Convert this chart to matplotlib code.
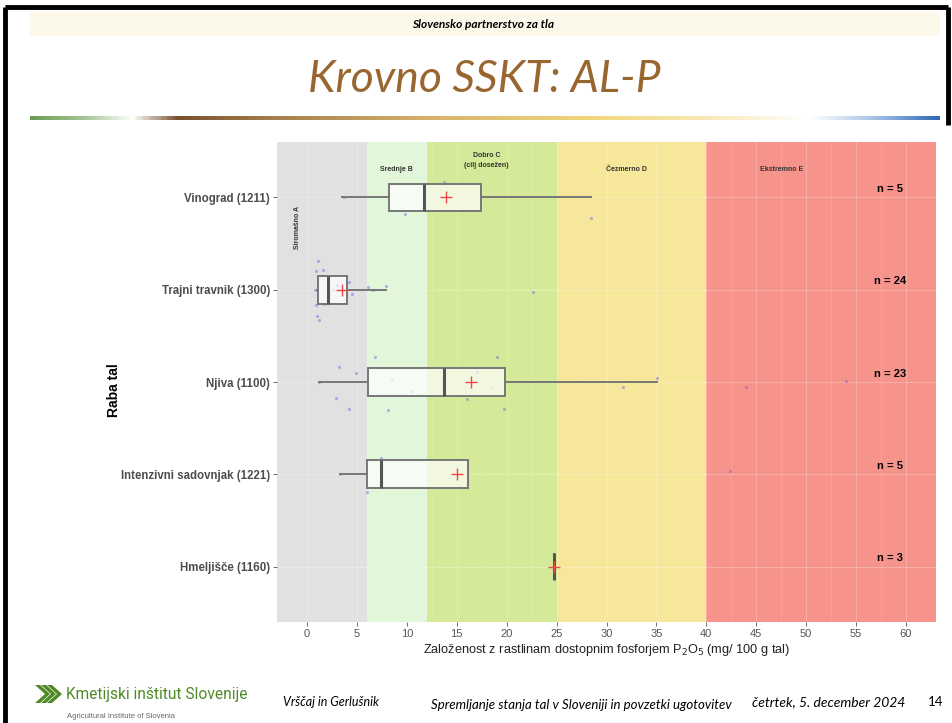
"""Krovno SSKT: AL-P - boxplot of plant-available P2O5 by land use, slide layout."""

import numpy as np
import matplotlib
matplotlib.use("Agg")
import matplotlib.pyplot as plt
from matplotlib.colors import LinearSegmentedColormap
from matplotlib.patches import Rectangle, Polygon

plt.rcParams["font.family"] = ["Liberation Sans", "DejaVu Sans"]

# ---- data ----
categories = ["Hmeljišče (1160)", "Intenzivni sadovnjak (1221)", "Njiva (1100)",
              "Trajni travnik (1300)", "Vinograd (1211)"]
n_counts = [3, 5, 23, 24, 5]
whisker_lo = [24.7, 3.3, 1.2, 1.0, 3.5]
q1 = [24.7, 6.0, 6.1, 1.1, 8.2]
median = [24.7, 7.4, 13.7, 2.1, 11.7]
q3 = [24.7, 16.1, 19.8, 4.0, 17.4]
whisker_hi = [24.7, 16.1, 35.1, 7.9, 28.4]
means = [24.7, 15.0, 16.4, 3.5, 13.9]

# jittered observations: value and vertical jitter per category
pts_hmelj = [24.7, 24.7, 24.7]
jit_hmelj = [0.05, -0.05, 0.0]
pts_sad = [3.3, 6.0, 7.4, 42.4]
jit_sad = [0.0, -0.19, 0.18, 0.04]
pts_njiva = [6.8, 19.0, 3.2, 4.9, 8.5, 35.1, 17.0, 2.9, 4.2, 8.1, 10.5, 16.0,
             18.4, 19.7, 31.7, 44.0, 54.0, 1.2]
jit_njiva = [0.27, 0.27, 0.16, 0.10, 0.03, 0.04, 0.11, -0.17, -0.29, -0.30,
             -0.10, -0.18, -0.05, -0.29, -0.05, -0.05, 0.01, 0.0]
pts_trajni = [1.1, 0.9, 1.6, 0.8, 4.2, 4.5, 0.9, 1.7, 1.0, 1.2, 6.1, 6.6, 7.9,
              22.6, 2.6, 3.0]
jit_trajni = [0.31, 0.20, 0.21, 0.0, 0.08, -0.05, -0.17, -0.16, -0.28, -0.33,
              0.03, 0.0, 0.04, -0.02, 0.0, 0.05]
pts_vino = [3.7, 9.8, 13.7, 28.4]
jit_vino = [0.0, -0.18, 0.17, -0.22]
points = [(pts_hmelj, jit_hmelj), (pts_sad, jit_sad), (pts_njiva, jit_njiva),
          (pts_trajni, jit_trajni), (pts_vino, jit_vino)]

zone_edges = [-3, 6, 12, 25, 40, 63]
zone_colors = ["#E1E1E1", "#E2F6D9", "#D5EA98", "#F7E79B", "#F6948B"]
zone_labels = ["Siromašno A", "Srednje B", "Dobro C\n(cilj dosežen)", "Čezmerno D", "Ekstremno E"]
x_ticks = [0, 5, 10, 15, 20, 25, 30, 35, 40, 45, 50, 55, 60]

W, H = 952, 723
fig = plt.figure(figsize=(W / 100, H / 100), dpi=100)
fig.patch.set_facecolor("white")

# ---- slide decoration ----
bg = fig.add_axes([0, 0, 1, 1], zorder=0)
bg.set_xlim(0, W)
bg.set_ylim(H, 0)
bg.axis("off")

slide_font = ["Lato", "DejaVu Sans"]

bg.add_patch(Rectangle((30, 12), 910, 24, color="#FBF8EA", lw=0))
bg.plot([5, 5], [7, H], color="black", lw=3.5, solid_capstyle="butt")
bg.plot([5, 948], [7, 7], color="black", lw=3.5, solid_capstyle="butt")
bg.plot([948, 948], [7, 125], color="black", lw=3.5, solid_capstyle="butt")

bg.text(483, 24, "Slovensko partnerstvo za tla", ha="center", va="center",
        fontsize=8.6, style="italic", weight="bold", family=slide_font)
bg.text(484, 80, "Krovno SSKT: AL-P", ha="center", va="center", fontsize=32,
        style="italic", color="#9A6630", family=slide_font)

grad_cmap = LinearSegmentedColormap.from_list("rule", [
    (0.0, "#6E9E55"), (0.06, "#A9C79A"), (0.11, "#FFFFFF"), (0.16, "#7A5230"),
    (0.28, "#A88350"), (0.45, "#D9B56E"), (0.62, "#F1D77C"), (0.75, "#F8EAB8"),
    (0.86, "#FFFFFF"), (0.93, "#A8C4E6"), (1.0, "#3568B8")])
bg.imshow(np.linspace(0, 1, 400)[None, :], cmap=grad_cmap, aspect="auto",
          extent=[30, 940, 120, 116], zorder=1)

# logo chevrons
for k in range(3):
    dx = k * 6
    bg.add_patch(Polygon([(35 + dx, 685), (40 + dx, 685), (50 + dx, 694),
                          (40 + dx, 703), (35 + dx, 703), (45 + dx, 694)],
                         closed=True, color="#4E8A25", lw=0))
bg.text(66, 695, "Kmetijski inštitut Slovenije", ha="left", va="center", fontsize=11.2,
        color="#4E8A25", family=["Liberation Sans Narrow", "Roboto", "DejaVu Sans"])
bg.text(67, 717, "Agricultural Institute of Slovenia", ha="left", va="center",
        fontsize=5.5, color="#666666")
bg.text(283, 702, "Vrščaj in Gerlušnik", ha="left", va="center", fontsize=9,
        style="italic", family=slide_font)
bg.text(431, 705, "Spremljanje stanja tal v Sloveniji in povzetki ugotovitev", ha="left",
        va="center", fontsize=9.5, style="italic", family=slide_font)
bg.text(752, 702, "četrtek, 5. december 2024", ha="left", va="center", fontsize=10,
        style="italic", family=slide_font)
bg.text(928, 702, "14", ha="left", va="center", fontsize=9.5, family=slide_font)

# ---- chart panel ----
ax = fig.add_axes([277 / W, 1 - 622 / H, 659 / W, 480 / H], zorder=2)
ax.set_xlim(-3, 63)
ax.set_ylim(0.4, 5.6)

for i, c in enumerate(zone_colors):
    ax.axvspan(zone_edges[i], zone_edges[i + 1], color=c, lw=0, zorder=0)

# faint ggplot-style grid over the zones
for xv in np.arange(0, 61, 5):
    ax.axvline(xv, color="white", lw=0.8, alpha=0.22, zorder=1)
for xv in np.arange(2.5, 61, 5):
    ax.axvline(xv, color="white", lw=0.5, alpha=0.15, zorder=1)
for yv in range(1, 6):
    ax.axhline(yv, color="white", lw=0.8, alpha=0.25, zorder=1)

ypos = np.arange(1, len(categories) + 1)

# jittered observations
for yc, (vals, jit) in zip(ypos, points):
    ax.scatter(vals, yc + np.array(jit), s=5, color="#6B5BE0", alpha=0.45,
               lw=0, zorder=2)

stats = []
for i in range(len(categories)):
    stats.append(dict(med=median[i], q1=q1[i], q3=q3[i], whislo=whisker_lo[i],
                      whishi=whisker_hi[i], fliers=[]))
ax.bxp(stats, positions=ypos, vert=False, widths=0.30, patch_artist=True,
       showcaps=False, showfliers=False,
       boxprops=dict(facecolor=(1, 1, 1, 0.7), edgecolor="#777777", lw=1.4),
       whiskerprops=dict(color="#777777", lw=1.4),
       medianprops=dict(color="#555555", lw=2.2), zorder=3)

ax.plot(means, ypos, ls="none", marker="+", ms=9, mew=1.0, color="#F04848", zorder=4)

for yc, n in zip(ypos, n_counts):
    ax.text(58.4, yc + 0.09, f"n = {n}", ha="center", va="center", fontsize=8,
            weight="bold", zorder=5)

# zone captions
cap = dict(fontsize=5, weight="bold", color="#333333", zorder=5)
ax.text(-0.9, 4.67, zone_labels[0], rotation=90, ha="center", va="center", **cap)
ax.text(9.0, 5.3, zone_labels[1], ha="center", va="center", **cap)
ax.text(18.0, 5.4, zone_labels[2], ha="center", va="center", linespacing=1.6, **cap)
ax.text(32.0, 5.3, zone_labels[3], ha="center", va="center", **cap)
ax.text(47.5, 5.3, zone_labels[4], ha="center", va="center", **cap)

ax.set_yticks(ypos)
ax.set_yticklabels(categories, fontsize=8.3, weight="bold", color="#4D4D4D")
ax.set_xticks(x_ticks)
ax.set_xticklabels([str(t) for t in x_ticks], fontsize=8, color="#555555")
ax.tick_params(length=3, width=0.6, color="#555555", pad=2)
for s in ax.spines.values():
    s.set_visible(False)

ax.set_xlabel("Založenost z rastlinam dostopnim fosforjem P$_2$O$_5$ (mg/ 100 g tal)",
              fontsize=9.2, color="#222222", labelpad=2)
fig.text(114 / W, 1 - 390 / H, "Raba tal", rotation=90, ha="center", va="center",
         fontsize=10, weight="bold")

fig.savefig("out.png", dpi=100)
